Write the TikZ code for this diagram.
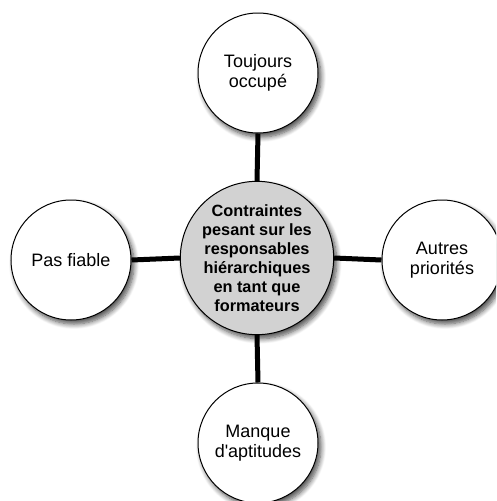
\documentclass[tikz,border=0pt]{standalone}
\usepackage{fontspec}
\setmainfont{Liberation Sans}
\usetikzlibrary{shadows.blur}
\definecolor{centerfill}{HTML}{D2D2D2}
\tikzset{
  bubble/.style={circle, draw=black, line width=1pt, fill=white, minimum size=120pt, inner sep=0pt,
    align=center, font=\fontsize{18}{20.5}\selectfont,
    blur shadow={shadow xshift=3pt, shadow yshift=-4pt, shadow blur steps=8, shadow blur radius=5pt, shadow opacity=70}},
  hub/.style={bubble, fill=centerfill, minimum size=150pt, font=\fontsize{16.3}{19}\selectfont\bfseries},
  link/.style={line width=5pt, black}
}
\begin{document}
\begin{tikzpicture}[x=1pt,y=-1pt]
\useasboundingbox (0,0) rectangle (496,501);
\begin{scope}
\clip (0,0) rectangle (496,501);
\node[hub] (c) at (257,258) {Contraintes\\pesant sur les\\responsables\\hiérarchiques\\en tant que\\formateurs};
\node[bubble] (t) at (258,73) {Toujours\\occupé};
\node[bubble] (l) at (71,260) {Pas fiable};
\node[bubble] (r) at (442,260) {Autres\\priorités};
\node[bubble] (b) at (258,443) {Manque\\d\textquotesingle aptitudes};
\draw[link] (c.north) -- (t.south);
\draw[link] (c.west) -- (l.east);
\draw[link] (c.east) -- (r.west);
\draw[link] (c.south) -- (b.north);
\end{scope}
\end{tikzpicture}
\end{document}
